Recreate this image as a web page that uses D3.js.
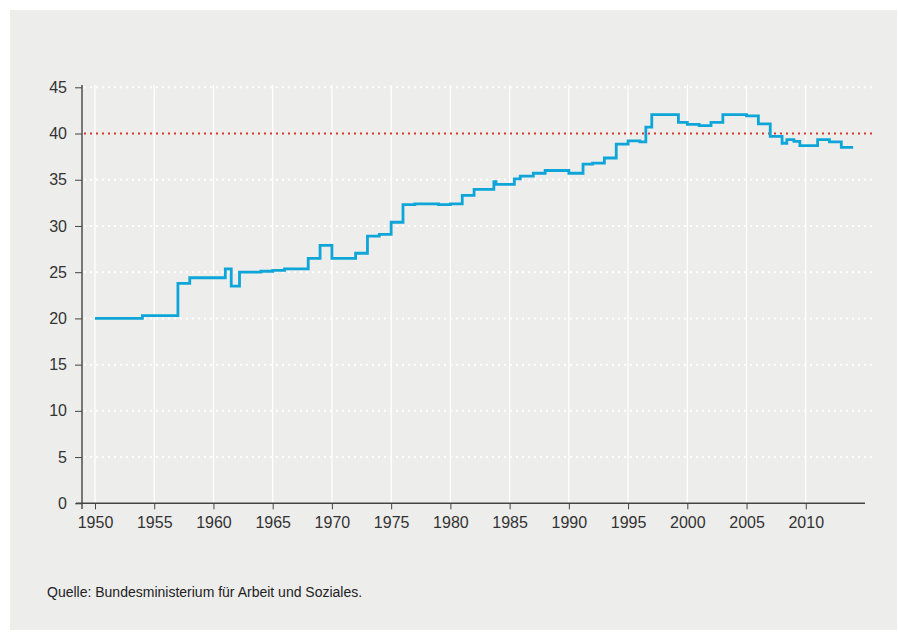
<!DOCTYPE html>
<html><head><meta charset="utf-8">
<script src="https://cdn.jsdelivr.net/npm/d3@7"></script>
<style>
html,body{margin:0;padding:0;background:#fff;}
svg{display:block;font-family:"Liberation Sans",Arial,Helvetica,sans-serif;}
</style></head>
<body>
<svg id="c" width="899" height="638"></svg>
<script>
// Step data: start year of each level and the level (Beitragssatz, %)
const years = [1950, 1954, 1957, 1958, 1961, 1961.5, 1962.2, 1964, 1965, 1966, 1968, 1969, 1970, 1972, 1973, 1974, 1975, 1976, 1977, 1979, 1980, 1981, 1982, 1983.67, 1983.85, 1985.4, 1985.9, 1987, 1988, 1990, 1991.2, 1992, 1993, 1994, 1995, 1996, 1996.5, 1997, 1999.25, 2000, 2001, 2002, 2003, 2005, 2006, 2007, 2008, 2008.4, 2009, 2009.5, 2011, 2012, 2013, 2014];
const values = [20.0, 20.3, 23.8, 24.4, 25.35, 23.5, 25.0, 25.1, 25.2, 25.35, 26.5, 27.9, 26.5, 27.05, 28.9, 29.1, 30.4, 32.3, 32.4, 32.3, 32.4, 33.3, 33.95, 34.8, 34.5, 35.1, 35.4, 35.7, 36.0, 35.7, 36.7, 36.8, 37.35, 38.85, 39.2, 39.1, 40.7, 42.05, 41.2, 41.0, 40.85, 41.2, 42.05, 41.9, 41.05, 39.7, 38.95, 39.35, 39.15, 38.7, 39.35, 39.1, 38.5, 38.5];
const xTicks = [1950, 1955, 1960, 1965, 1970, 1975, 1980, 1985, 1990, 1995, 2000, 2005, 2010];
const yTicks = [0, 5, 10, 15, 20, 25, 30, 35, 40, 45];
const refLine = 40;
const source = "Quelle: Bundesministerium für Arbeit und Soziales.";

const svg = d3.select("#c");
svg.append("rect").attr("x",10).attr("y",10).attr("width",887).attr("height",620).attr("fill","#ededec");

const x = d3.scaleLinear().domain([1949, 2015]).range([83.15, 865]);
const y = d3.scaleLinear().domain([0, 45]).range([503.3, 87.3]);
const gridRight = 873;

// vertical white gridlines
svg.append("g").selectAll("line").data(xTicks).join("line")
  .attr("x1", d=>x(d)).attr("x2", d=>x(d)).attr("y1", 85).attr("y2", y(0))
  .attr("stroke","#fff").attr("stroke-width",1.3);

// horizontal dotted gridlines
svg.append("g").selectAll("line").data(yTicks.filter(d=>d>0 && d!==refLine)).join("line")
  .attr("x1", 84).attr("x2", gridRight).attr("y1", d=>y(d)).attr("y2", d=>y(d))
  .attr("stroke","#fff").attr("stroke-width",2).attr("stroke-dasharray","2,4");

// reference line 40
svg.append("line").attr("x1",84).attr("x2",gridRight).attr("y1",y(refLine)).attr("y2",y(refLine))
  .attr("stroke","#d9372e").attr("stroke-width",2).attr("stroke-dasharray","2,4");

// step line
const pts = years.map((yr,i)=>[yr, values[i]]);
const line = d3.line().x(d=>x(d[0])).y(d=>y(d[1])).curve(d3.curveStepAfter);
svg.append("path").datum(pts).attr("d", line).attr("fill","none")
  .attr("stroke","#0ea5d8").attr("stroke-width",2.8).attr("stroke-linejoin","miter").attr("stroke-linecap","butt");

// axes
const yAxis = d3.axisLeft(y).tickValues(yTicks).tickSize(7).tickPadding(8).tickSizeOuter(0);
const gy = svg.append("g").attr("transform","translate(82,0)").call(yAxis);
gy.select(".domain").attr("d","M0,85V509");
gy.selectAll("text").attr("font-size",16).attr("fill","#333").attr("font-family","Liberation Sans, Arial, sans-serif");
gy.selectAll("line").attr("stroke","#444");
gy.select(".domain").attr("stroke","#444").attr("stroke-width",1.4);

const xAxis = d3.axisBottom(x).tickValues(xTicks).tickFormat(d3.format("d")).tickSize(6).tickPadding(7).tickSizeOuter(0);
const gx = svg.append("g").attr("transform","translate(0,503.3)").call(xAxis);
gx.select(".domain").attr("d","M76,0H865").attr("stroke","#444").attr("stroke-width",1.4);
gx.selectAll("line").attr("stroke","#444");
gx.selectAll("text").attr("font-size",16).attr("fill","#333").attr("font-family","Liberation Sans, Arial, sans-serif");

svg.append("text").attr("x",47).attr("y",597).attr("font-size",14).attr("fill","#222").text(source);
</script>
</body></html>
